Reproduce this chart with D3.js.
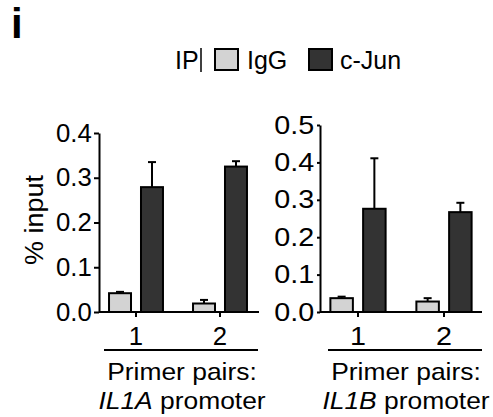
<!DOCTYPE html>
<html>
<head>
<meta charset="utf-8">
<title>ChIP c-Jun</title>
<style>
  body { margin: 0; background: #fff; }
  svg { display: block; font-family: "Liberation Sans", Arial, sans-serif; }
  .axis path, .axis line { stroke: #000; stroke-width: 2px; }
  .axis text { font-size: 25px; fill: #000; font-family: "Liberation Sans", Arial, sans-serif; }
</style>
<script src="https://cdn.jsdelivr.net/npm/d3@7"></script>
</head>
<body>
<svg width="493" height="417"></svg>
<script>
// data
const primers = ["1", "2"];
const series = ["IgG", "c-Jun"];
const il1aIgG = [0.042, 0.019];
const il1aIgGErr = [0.003, 0.008];
const il1aJun = [0.279, 0.325];
const il1aJunErr = [0.056, 0.012];
const il1bIgG = [0.037, 0.028];
const il1bIgGErr = [0.004, 0.009];
const il1bJun = [0.276, 0.267];
const il1bJunErr = [0.135, 0.025];
const il1aTicks = [0, 0.1, 0.2, 0.3, 0.4];
const il1bTicks = [0, 0.1, 0.2, 0.3, 0.4, 0.5];

const colors = { "IgG": "#d3d3d3", "c-Jun": "#333333" };

const svg = d3.select("svg");

// panel letter
svg.append("text").attr("x", 11).attr("y", 38)
  .style("font-size", "42px").style("font-weight", "bold").text("i");

// legend
const leg = svg.append("g");
leg.append("text").attr("x", 175).attr("y", 68.5).style("font-size", "25px").text("IP");
leg.append("line").attr("x1", 201).attr("x2", 201).attr("y1", 48).attr("y2", 72)
  .attr("stroke", "#000").attr("stroke-width", 1.5);
const legX = { "IgG": 215, "c-Jun": 309 };
series.forEach(s => {
  leg.append("rect").attr("x", legX[s]).attr("y", 49).attr("width", 23).attr("height", 21)
    .attr("fill", colors[s]).attr("stroke", "#000").attr("stroke-width", 2);
  leg.append("text").attr("x", legX[s] + (s === "IgG" ? 32 : 31)).attr("y", 68.5)
    .style("font-size", "25px").text(s);
});

// y label
svg.append("text")
  .attr("transform", "translate(43,220) rotate(-90) scale(1.08,1)")
  .attr("text-anchor", "middle").style("font-size", "25px").text("% input");

function panel(cfg) {
  const y = d3.scaleLinear().domain([0, cfg.max]).range([312, cfg.top]);
  const x = d3.scaleBand().domain(primers).range(cfg.groupRange);
  const xi = d3.scaleBand().domain(series).range([0, x.bandwidth()])
    .paddingInner(0.3125).paddingOuter(0.47);
  const g = svg.append("g");

  const rows = [];
  primers.forEach((p, i) => {
    rows.push({ p, s: "IgG", v: cfg.igg[i], e: cfg.iggErr[i] });
    rows.push({ p, s: "c-Jun", v: cfg.jun[i], e: cfg.junErr[i] });
  });

  // error bars (upper only)
  const eb = g.selectAll(".eb").data(rows).enter().append("g")
    .attr("stroke", "#000").attr("stroke-width", 2);
  const cx = d => x(d.p) + xi(d.s) + xi.bandwidth() / 2;
  eb.append("line").attr("x1", cx).attr("x2", cx)
    .attr("y1", d => y(d.v)).attr("y2", d => y(d.v + d.e));
  eb.append("line").attr("x1", d => cx(d) - 4).attr("x2", d => cx(d) + 4)
    .attr("y1", d => y(d.v + d.e)).attr("y2", d => y(d.v + d.e));

  g.selectAll(".bar").data(rows).enter().append("rect")
    .attr("x", d => x(d.p) + xi(d.s))
    .attr("width", xi.bandwidth())
    .attr("y", d => y(d.v))
    .attr("height", d => y(0) - y(d.v))
    .attr("fill", d => colors[d.s])
    .attr("stroke", "#000").attr("stroke-width", 2);

  // y axis
  const ya = g.append("g").attr("class", "axis").attr("transform", `translate(${cfg.axisX},0)`)
    .call(d3.axisLeft(y).tickValues(cfg.ticks).tickFormat(d3.format(".1f"))
      .tickSize(cfg.tick).tickSizeOuter(0).tickPadding(2));
  ya.selectAll("text").attr("transform", `scale(${cfg.sx},1)`);

  // x axis
  const xa = g.append("g").attr("class", "axis").attr("transform", "translate(0,312)")
    .call(d3.axisBottom(x).tickSize(5).tickSizeOuter(0).tickPadding(10));
  xa.select(".domain").remove();
  xa.selectAll("text").attr("dy", "0.71em").attr("transform", `scale(${cfg.sx},1)`);
  g.append("line").attr("x1", cfg.axisX).attr("x2", cfg.axisEnd)
    .attr("y1", 312).attr("y2", 312).attr("stroke", "#000").attr("stroke-width", 2);

  // underline and caption
  g.append("line").attr("x1", cfg.ul[0]).attr("x2", cfg.ul[1]).attr("y1", 350).attr("y2", 350)
    .attr("stroke", "#000").attr("stroke-width", 2);
  const c = (cfg.ul[0] + cfg.ul[1]) / 2;
  g.append("text").attr("transform", `translate(${c + 1},380) scale(1.1,1)`)
    .attr("text-anchor", "middle").style("font-size", "24px").text("Primer pairs:");
  const t = g.append("text").attr("transform", `translate(${c + 1},409) scale(1.1,1)`)
    .attr("text-anchor", "middle").style("font-size", "24px");
  t.append("tspan").style("font-style", "italic").text(cfg.gene);
  t.append("tspan").text(" promoter");
}

panel({ max: 0.4, top: 133, ticks: il1aTicks, groupRange: [94, 262], axisX: 99, axisEnd: 259,
  tick: 5, sx: 1.03,
  igg: il1aIgG, iggErr: il1aIgGErr, jun: il1aJun, junErr: il1aJunErr, ul: [104, 258], gene: "IL1A" });
panel({ max: 0.5, top: 125, ticks: il1bTicks, groupRange: [315, 487], axisX: 320, axisEnd: 482,
  tick: 3, sx: 1.15,
  igg: il1bIgG, iggErr: il1bIgGErr, jun: il1bJun, junErr: il1bJunErr, ul: [328, 482], gene: "IL1B" });
</script>
</body>
</html>
